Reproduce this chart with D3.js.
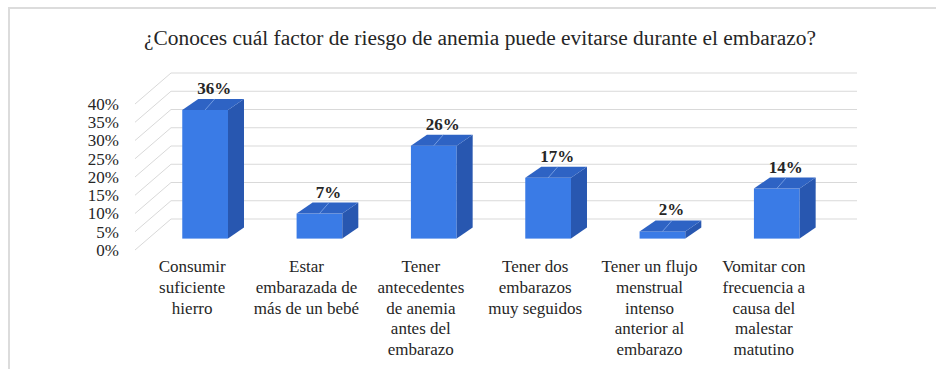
<!DOCTYPE html>
<html>
<head>
<meta charset="utf-8">
<script src="https://cdn.jsdelivr.net/npm/d3@7"></script>
<style>
  body { margin: 0; background: #fff; }
  svg text { font-family: "Liberation Serif", "Times New Roman", Times, "DejaVu Serif", "Noto Serif", serif; fill: #262626; }
</style>
</head>
<body>
<div id="chart"></div>
<script>
var title = "¿Conoces cuál factor de riesgo de anemia puede evitarse durante el embarazo?"

var categories = [
  ["Consumir", "suficiente", "hierro"],
  ["Estar", "embarazada de", "más de un bebé"],
  ["Tener", "antecedentes", "de anemia", "antes del", "embarazo"],
  ["Tener dos", "embarazos", "muy seguidos"],
  ["Tener un flujo", "menstrual", "intenso", "anterior al", "embarazo"],
  ["Vomitar con", "frecuencia a", "causa del", "malestar", "matutino"]
]
var values = [0.36, 0.07, 0.26, 0.17, 0.02, 0.14]
var tickValues = [0, 0.05, 0.10, 0.15, 0.20, 0.25, 0.30, 0.35, 0.40]

var width = 936
var height = 369
var serif = '"Liberation Serif", "Times New Roman", Times, "DejaVu Serif", "Noto Serif", serif'

// oblique depth of the floor, and where the bars sit inside it
var depthX = 36, depthY = -31
var barDepth = 0.36
var sideX = 16, sideY = -11

var svg = d3.select("#chart")
  .append("svg")
    .attr("width", width)
    .attr("height", height)

// frame of the chart area
svg.append("path")
  .attr("d", "M9,369 L9,8 L936,8")
  .attr("fill", "none")
  .attr("stroke", "#dcdcdc")
  .attr("stroke-width", 2)

svg.append("text")
  .attr("x", 480)
  .attr("y", 45)
  .attr("text-anchor", "middle")
  .attr("font-family", serif)
  .attr("textLength", 672)
  .attr("lengthAdjust", "spacingAndGlyphs")
  .style("font-size", "20px")
  .text(title)

var x = d3.scaleBand()
  .domain(d3.range(categories.length))
  .range([135, 821])
  .paddingInner(0)

var yFront = d3.scaleLinear().domain([0, 0.4]).range([250, 104])
var yBack = d3.scaleLinear().domain([0, 0.4]).range([250 + depthY, 104 + depthY])
var yBar = d3.scaleLinear().domain([0, 0.4]).range([238.6, 95.6])

var grid = svg.append("g")
  .attr("stroke", "#d9d9d9")
  .attr("stroke-width", 1)
  .attr("fill", "none")

// side wall lines
grid.selectAll("line.side")
  .data(tickValues)
  .enter()
  .append("line")
    .attr("x1", x.range()[0])
    .attr("y1", function(d){ return yFront(d) })
    .attr("x2", x.range()[0] + depthX)
    .attr("y2", function(d){ return yBack(d) })

// back wall lines
grid.selectAll("line.back")
  .data(tickValues)
  .enter()
  .append("line")
    .attr("x1", x.range()[0] + depthX)
    .attr("y1", function(d){ return yBack(d) })
    .attr("x2", x.range()[1] + depthX)
    .attr("y2", function(d){ return yBack(d) })

// value axis labels
var yAxis = svg.append("g")
  .attr("transform", "translate(" + x.range()[0] + ",0)")
  .call(d3.axisLeft(yFront)
    .tickValues(tickValues)
    .tickFormat(d3.format(".0%"))
    .tickSize(0)
    .tickPadding(16))
yAxis.attr("font-family", serif).attr("font-size", 17)
yAxis.select(".domain").remove()
yAxis.selectAll("text")
  .attr("fill", "#262626")

var barW = x.bandwidth() * 0.4
function barLeft(i) {
  return x(i) + x.bandwidth() * 0.3 + barDepth * depthX
}

var bars = svg.append("g")
  .selectAll("g")
  .data(values)
  .enter()
  .append("g")

// front face
bars.append("rect")
  .attr("x", function(d, i){ return barLeft(i) })
  .attr("y", function(d){ return yBar(d) })
  .attr("width", barW)
  .attr("height", function(d){ return yBar(0) - yBar(d) })
  .attr("fill", "#3a7be6")

// side face
bars.append("path")
  .attr("d", function(d, i){
    var x0 = barLeft(i) + barW, yt = yBar(d), yb = yBar(0)
    return "M" + x0 + "," + yt + " L" + (x0 + sideX) + "," + (yt + sideY) +
      " L" + (x0 + sideX) + "," + (yb + sideY) + " L" + x0 + "," + yb + "Z"
  })
  .attr("fill", "#2857b0")

// top face
bars.append("path")
  .attr("d", function(d, i){
    var x0 = barLeft(i), yt = yBar(d)
    return "M" + x0 + "," + yt + " L" + (x0 + barW) + "," + yt +
      " L" + (x0 + barW + sideX) + "," + (yt + sideY) + " L" + (x0 + sideX) + "," + (yt + sideY) + "Z"
  })
  .attr("fill", "#2e63c4")

bars.append("line")
  .attr("x1", function(d, i){ return barLeft(i) + barW / 2 })
  .attr("y1", function(d){ return yBar(d) })
  .attr("x2", function(d, i){ return barLeft(i) + barW / 2 + sideX * 0.6 })
  .attr("y2", function(d){ return yBar(d) + sideY })
  .attr("stroke", "#8fb3ee")
  .attr("stroke-width", 1)
  .attr("opacity", 0.7)

// data labels
bars.append("text")
  .attr("x", function(d, i){ return barLeft(i) + barW / 2 + sideX / 2 + 1 })
  .attr("y", function(d){ return yBar(d) + sideY - 5 })
  .attr("text-anchor", "middle")
  .attr("font-family", serif)
  .style("font-size", "17px")
  .style("font-weight", "bold")
  .attr("fill", "#1a1a1a")
  .text(function(d){ return d3.format(".0%")(d) })

// category labels
var cats = svg.append("g")
  .attr("font-family", serif)
  .selectAll("text")
  .data(categories)
  .enter()
  .append("text")
    .attr("x", function(d, i){ return x(i) + x.bandwidth() / 2 })
    .attr("y", 272)
    .attr("text-anchor", "middle")
    .style("font-size", "17px")

cats.selectAll("tspan")
  .data(function(d){ return d })
  .enter()
  .append("tspan")
    .attr("x", function(){ return this.parentNode.getAttribute("x") })
    .attr("dy", function(d, i){ return i === 0 ? 0 : 20.8 })
    .text(function(d){ return d })
</script>
</body>
</html>
